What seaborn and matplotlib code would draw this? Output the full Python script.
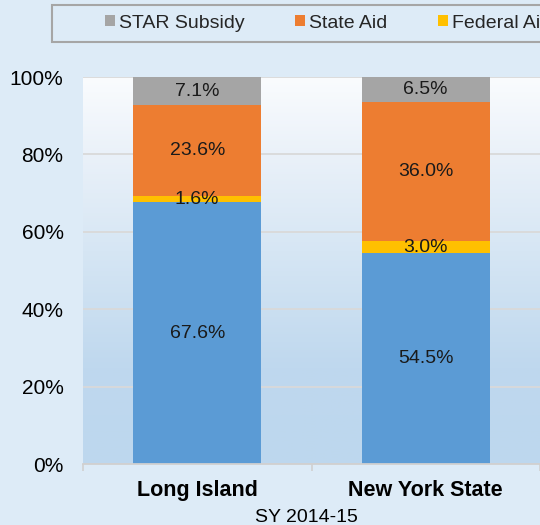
import numpy as np
import pandas as pd
import matplotlib
matplotlib.use("Agg")
import matplotlib.pyplot as plt
import seaborn as sns
from matplotlib.patches import Patch, Rectangle
from matplotlib.colors import LinearSegmentedColormap

# ---- data ----
categories = ["Long Island", "New York State"]
local_revenue = [67.6, 54.5]
federal_aid = [1.6, 3.0]
state_aid = [23.6, 36.0]
star_subsidy = [7.1, 6.5]
legend_names = ["STAR Subsidy", "State Aid", "Federal Aid"]
yticks = [0, 20, 40, 60, 80, 100]
ytick_labels = ["0%", "20%", "40%", "60%", "80%", "100%"]
xlabel_text = "SY 2014-15"

sns.set_theme(style="white")
plt.rcParams["font.family"] = ["Liberation Sans", "DejaVu Sans"]

df = pd.DataFrame({
    "category": categories,
    "Local Revenue": local_revenue,
    "Federal Aid": federal_aid,
    "State Aid": state_aid,
    "STAR Subsidy": star_subsidy,
})
stack_order = ["Local Revenue", "Federal Aid", "State Aid", "STAR Subsidy"]
colors = {"Local Revenue": "#5B9BD5", "Federal Aid": "#FFC000",
          "State Aid": "#ED7D31", "STAR Subsidy": "#A5A5A5"}
cum = df[stack_order].cumsum(axis=1)

BG = "#DDEBF7"
fig = plt.figure(figsize=(5.4, 5.25), dpi=100, facecolor=BG)
ax = fig.add_axes([83 / 540, 1 - 464 / 525, 457 / 540, 387 / 525])

# gradient plot area
cmap = LinearSegmentedColormap.from_list(
    "g", [(0.0, "#BDD7EE"), (0.25, "#BFD8EE"), (0.55, "#D6E6F4"), (0.8, "#EAF1F9"), (1.0, "#FAFCFE")])
grad = np.linspace(0, 1, 256).reshape(-1, 1)
ax.imshow(grad, extent=[-0.5, 1.5, 0, 100], aspect="auto", origin="lower",
          cmap=cmap, zorder=0)

# stacked bars (cumulative, drawn top-down)
for s in reversed(stack_order):
    plot_df = pd.DataFrame({"category": df["category"], "value": cum[s]})
    sns.barplot(data=plot_df, x="category", y="value", order=categories,
                color=colors[s], saturation=1, width=0.56, ax=ax,
                edgecolor="none", linewidth=0, zorder=2)

# segment labels
for i, cat in enumerate(categories):
    bottom = 0
    for s in stack_order:
        v = df[s].iloc[i]
        ax.text(i, bottom + v / 2, f"{v:.1f}%", ha="center", va="center",
                fontsize=14, color="#1a1a1a", zorder=3)
        bottom += v

ax.set_xlim(-0.5, 1.5)
ax.set_ylim(0, 100)
ax.set_yticks(yticks)
ax.set_yticklabels(ytick_labels, fontsize=15, color="black")
ax.tick_params(axis="y", length=0, pad=14)
ax.set_xticks(range(len(categories)))
ax.set_xticklabels(categories, fontsize=15.5, fontweight="bold", color="black")
ax.set_xticks([-0.5, 0.5, 1.5], minor=True)
ax.tick_params(axis="x", which="major", length=0, pad=11.5)
ax.tick_params(axis="x", which="minor", length=5, color="#D0D0D0", width=1.2, bottom=True)
ax.set_xlabel(xlabel_text, fontsize=14, color="black", labelpad=5.5, x=0.488)
ax.set_ylabel("")

ax.set_axisbelow(True)
ax.yaxis.grid(True, color="#D9D9D9", linewidth=1.3)
ax.xaxis.grid(False)
for side in ["left", "right", "top"]:
    ax.spines[side].set_visible(False)
ax.spines["bottom"].set_color("#D0D0D0")
ax.spines["bottom"].set_linewidth(1.3)

# legend frame and legend
fig.patches.append(Rectangle((52 / 540, 1 - 42 / 525), 600 / 540, 37 / 525,
                             transform=fig.transFigure, facecolor=BG,
                             edgecolor="#A6A6A6", linewidth=1.5, zorder=0))
handles = [Patch(facecolor=colors[n], edgecolor="none", label=n) for n in legend_names]
fig.legend(handles=handles, loc="center left", bbox_to_anchor=(105 / 540, 1 - 23 / 525),
           ncol=len(handles), frameon=False, fontsize=14, handlelength=0.51, handleheight=0.51,
           handletextpad=0.2, columnspacing=2.62, borderpad=0, borderaxespad=0)

fig.savefig("out.png", dpi=100, facecolor=BG)
